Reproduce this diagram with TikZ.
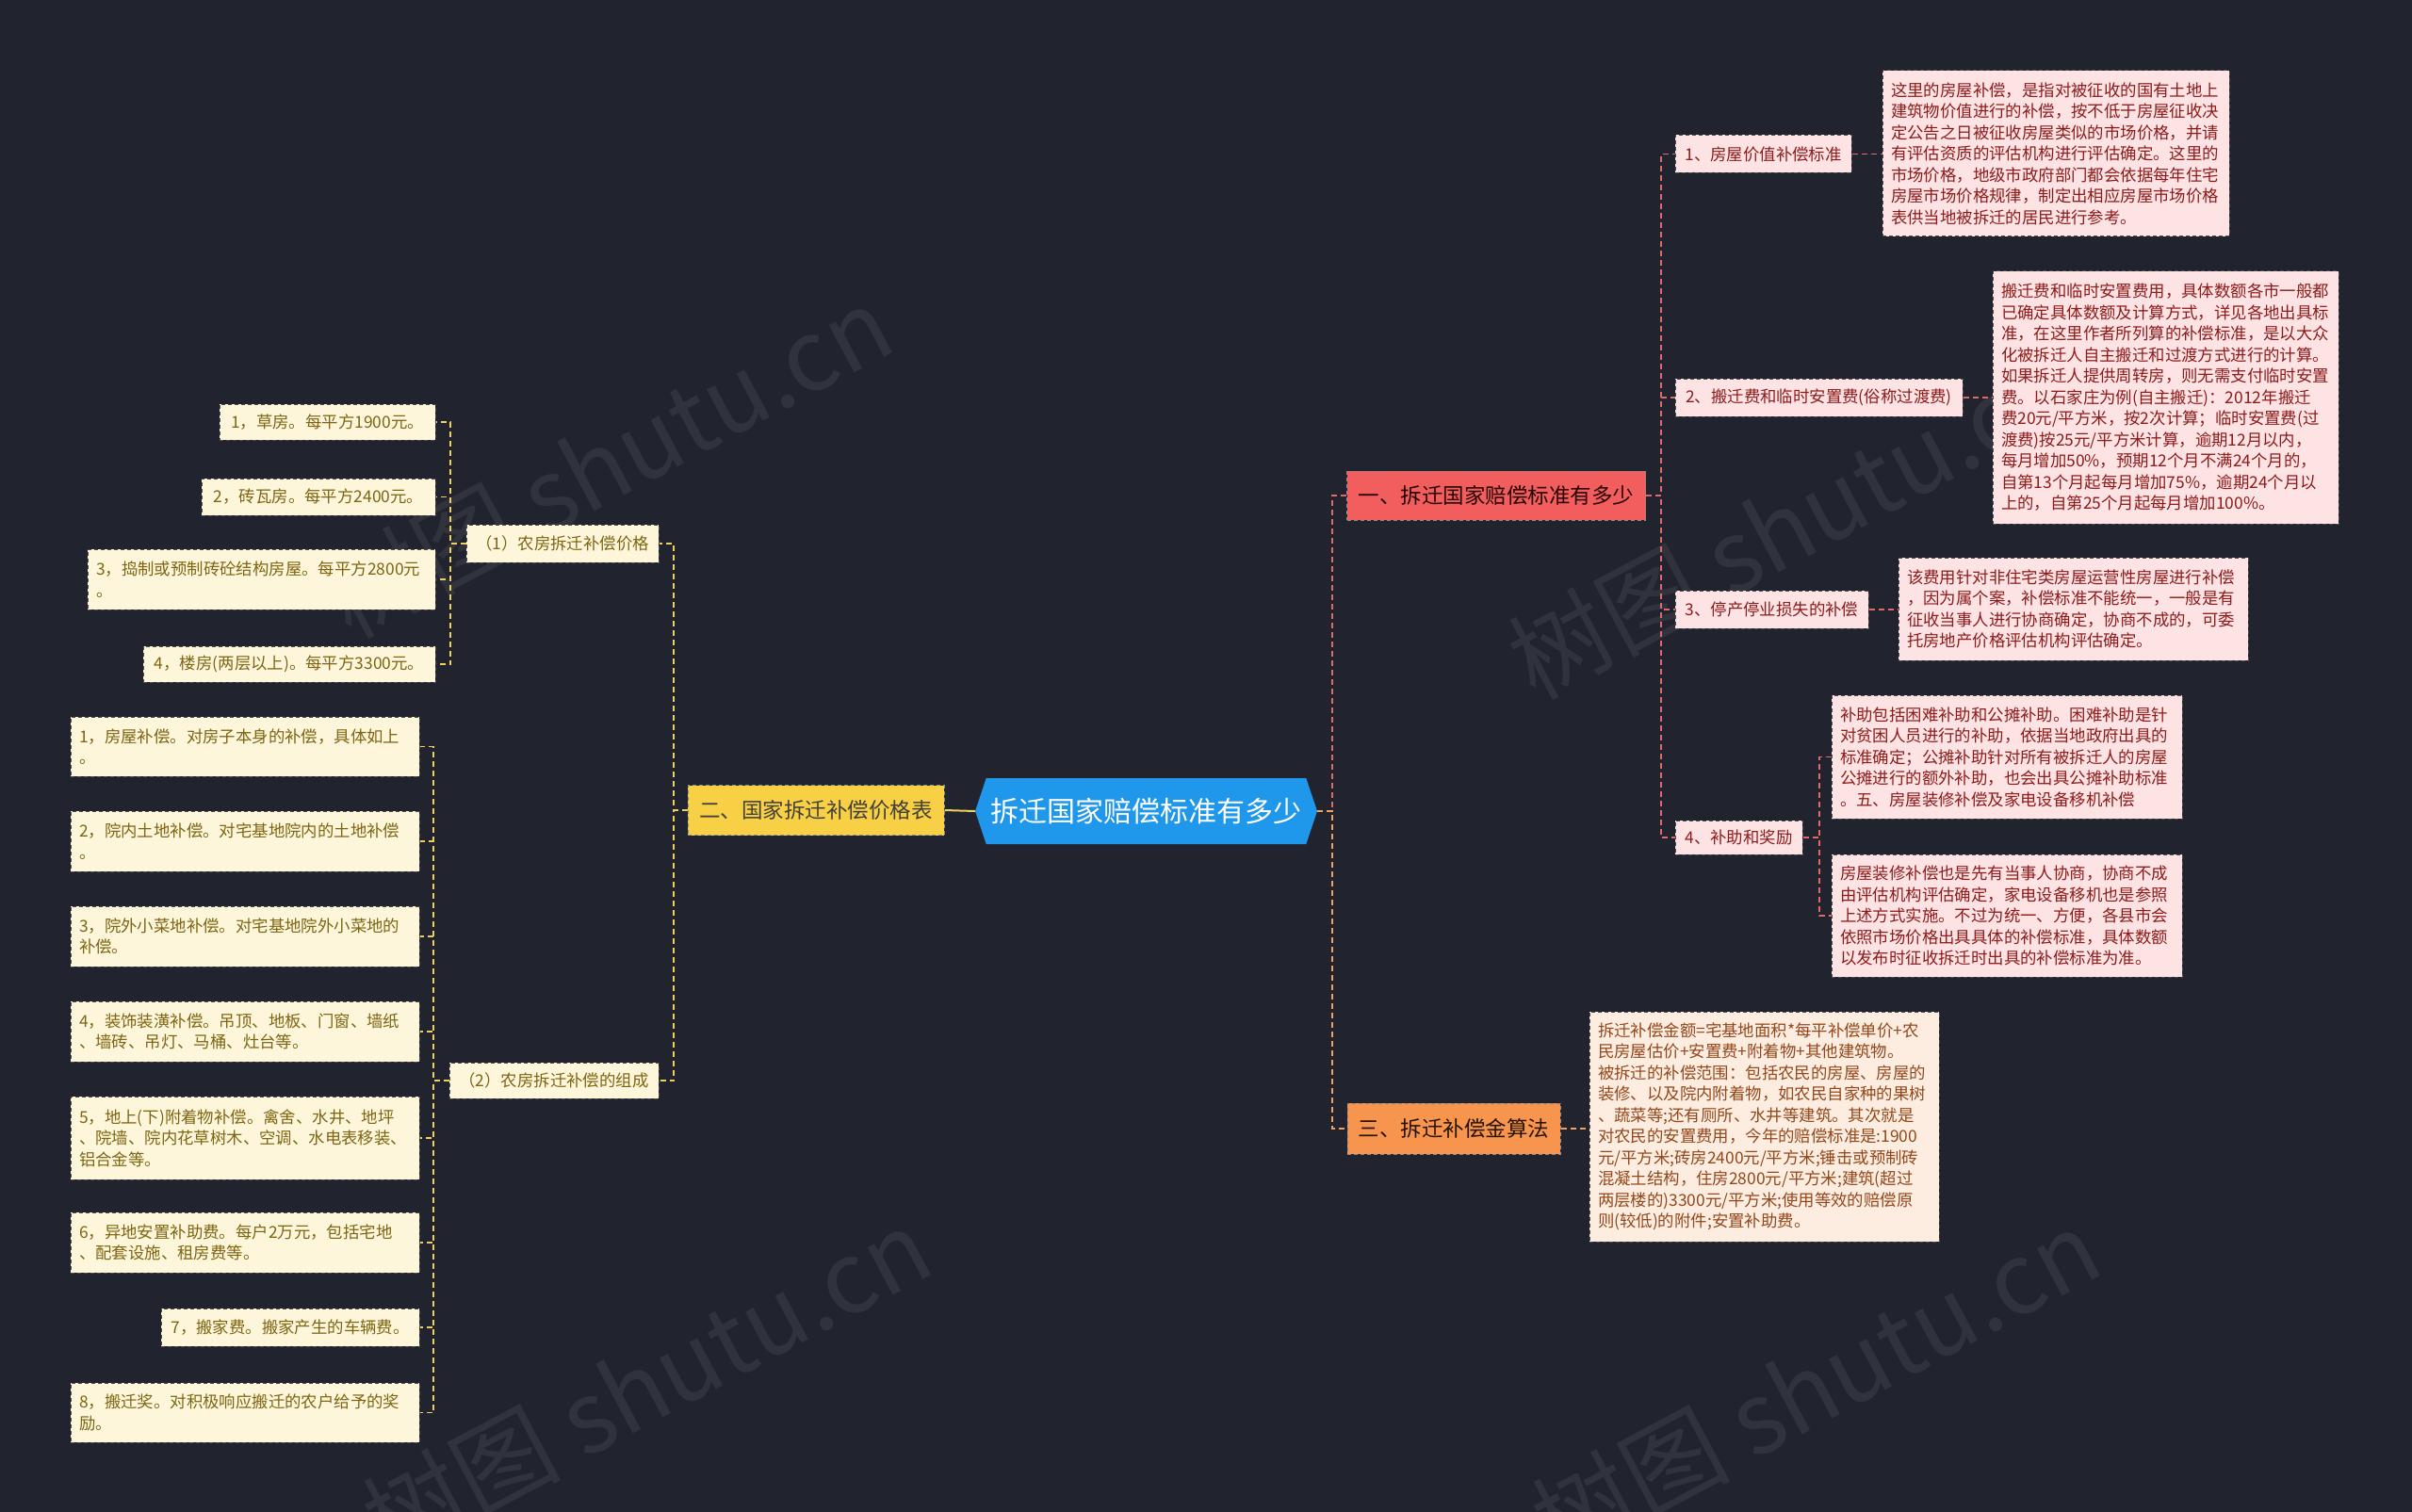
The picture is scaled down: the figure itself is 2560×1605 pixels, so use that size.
\documentclass[tikz,border=0pt]{standalone}
\usepackage{fontspec}
\setmainfont{Noto Sans CJK SC}
\usetikzlibrary{shapes.symbols}

\definecolor{bgdark}{HTML}{21232E}
\definecolor{rootblue}{HTML}{1F97EA}
\definecolor{redfill}{HTML}{F25E5E}
\definecolor{yellowfill}{HTML}{F7D046}
\definecolor{orangefill}{HTML}{F7954F}
\definecolor{pinkfill}{HTML}{FDE3E3}
\definecolor{pinktext}{HTML}{8E1B1B}
\definecolor{creamfill}{HTML}{FDF6DA}
\definecolor{creamtext}{HTML}{7D6512}
\definecolor{peachfill}{HTML}{FDEDE1}
\definecolor{peachtext}{HTML}{93471A}
\definecolor{linkred}{HTML}{E06868}
\definecolor{linkyellow}{HTML}{F0CF5A}
\definecolor{linkorange}{HTML}{F0A060}

\begin{document}
\begin{tikzpicture}[x=1pt, y=-1pt,
  box/.style={draw=black!70, dashed, dash pattern=on 4pt off 3pt, line width=1pt,
    inner xsep=9pt, inner ysep=0pt, font=\fontsize{17.4}{22.5}\selectfont},
  pinkbox/.style={box, fill=pinkfill, text=pinktext},
  creambox/.style={box, fill=creamfill, text=creamtext},
  peachbox/.style={box, fill=peachfill, text=peachtext},
  secbox/.style={draw=black!45, dashed, dash pattern=on 4pt off 3pt, line width=1pt,
    inner sep=0pt, font=\fontsize{22.5}{27}\selectfont},
  conred/.style={draw=linkred, line width=1.5pt, dash pattern=on 6pt off 4pt},
  conyellow/.style={draw=linkyellow, line width=1.5pt, dash pattern=on 6pt off 4pt},
  conorange/.style={draw=linkorange, line width=1.5pt, dash pattern=on 6pt off 4pt},
  wmark/.style={text=white, opacity=0.07, rotate=28, font=\fontsize{105}{110}\selectfont}]

  \fill[bgdark] (0,0) rectangle (2560,1605);
  \useasboundingbox (0,0) rectangle (2560,1605);

  % watermarks
  \node[wmark] (wm1) at (645,490) {树图 shutu.cn};
  \node[wmark] (wm2) at (1902,555) {树图 shutu.cn};
  \node[wmark] (wm3) at (686,1469) {树图 shutu.cn};
  \node[wmark] (wm4) at (1927,1470) {树图 shutu.cn};

  % centre
  \node[shape=signal, signal to=east and west, signal pointer angle=143, fill=rootblue,
    text=white, inner sep=0pt, minimum width=363pt, minimum height=70pt,
    font=\fontsize{30}{36}\selectfont] (root) at (1216.5,861) {拆迁国家赔偿标准有多少};

  % first level
  \node[secbox, fill=redfill, text=black!85!red, minimum width=317pt, minimum height=52pt]
    (sec1) at (1588,526) {一、拆迁国家赔偿标准有多少};
  \node[secbox, fill=yellowfill, text=black!85!yellow, minimum width=272pt, minimum height=53pt]
    (sec2) at (866,860) {二、国家拆迁补偿价格表};
  \node[secbox, fill=orangefill, text=black!85!orange, minimum width=226pt, minimum height=54pt]
    (sec3) at (1543,1198) {三、拆迁补偿金算法};

  % right side
  \node[pinkbox, minimum width=187pt, minimum height=40pt] (r1) at (1871.5,163.5) {1、房屋价值补偿标准};
  \node[pinkbox, minimum width=305pt, minimum height=40pt] (r2) at (1930.5,422) {2、搬迁费和临时安置费(俗称过渡费)};
  \node[pinkbox, minimum width=205pt, minimum height=40pt] (r3) at (1880.5,647) {3、停产停业损失的补偿};
  \node[pinkbox, minimum width=135pt, minimum height=36pt] (r4) at (1845.5,889) {4、补助和奖励};

  \node[pinkbox, align=left, text width=350pt, minimum height=176pt] (d1) at (2182,163) {%
    这里的房屋补偿，是指对被征收的国有土地上\\
    建筑物价值进行的补偿，按不低于房屋征收决\\
    定公告之日被征收房屋类似的市场价格，并请\\
    有评估资质的评估机构进行评估确定。这里的\\
    市场价格，地级市政府部门都会依据每年住宅\\
    房屋市场价格规律，制定出相应房屋市场价格\\
    表供当地被拆迁的居民进行参考。};
  \node[pinkbox, align=left, text width=349pt, minimum height=268pt] (d2) at (2298.5,422) {%
    搬迁费和临时安置费用，具体数额各市一般都\\
    已确定具体数额及计算方式，详见各地出具标\\
    准，在这里作者所列算的补偿标准，是以大众\\
    化被拆迁人自主搬迁和过渡方式进行的计算。\\
    如果拆迁人提供周转房，则无需支付临时安置\\
    费。以石家庄为例(自主搬迁)：2012年搬迁\\
    费20元/平方米，按2次计算；临时安置费(过\\
    渡费)按25元/平方米计算，逾期12月以内，\\
    每月增加50\%，预期12个月不满24个月的，\\
    自第13个月起每月增加75\%，逾期24个月以\\
    上的，自第25个月起每月增加100\%。};
  \node[pinkbox, align=left, text width=353pt, minimum height=109pt] (d3) at (2200.5,646.5) {%
    该费用针对非住宅类房屋运营性房屋进行补偿\\
    ，因为属个案，补偿标准不能统一，一般是有\\
    征收当事人进行协商确定，协商不成的，可委\\
    托房地产价格评估机构评估确定。};
  \node[pinkbox, align=left, text width=354pt, minimum height=131pt] (d4a) at (2130,803.5) {%
    补助包括困难补助和公摊补助。困难补助是针\\
    对贫困人员进行的补助，依据当地政府出具的\\
    标准确定；公摊补助针对所有被拆迁人的房屋\\
    公摊进行的额外补助，也会出具公摊补助标准\\
    。五、房屋装修补偿及家电设备移机补偿};
  \node[pinkbox, align=left, text width=354pt, minimum height=130pt] (d4b) at (2130,972) {%
    房屋装修补偿也是先有当事人协商，协商不成\\
    由评估机构评估确定，家电设备移机也是参照\\
    上述方式实施。不过为统一、方便，各县市会\\
    依照市场价格出具具体的补偿标准，具体数额\\
    以发布时征收拆迁时出具的补偿标准为准。};
  \node[peachbox, align=left, text width=353pt, minimum height=244pt] (d5) at (1872.5,1196) {%
    拆迁补偿金额=宅基地面积*每平补偿单价+农\\
    民房屋估价+安置费+附着物+其他建筑物。\\
    被拆迁的补偿范围：包括农民的房屋、房屋的\\
    装修、以及院内附着物，如农民自家种的果树\\
    、蔬菜等;还有厕所、水井等建筑。其次就是\\
    对农民的安置费用，今年的赔偿标准是:1900\\
    元/平方米;砖房2400元/平方米;锤击或预制砖\\
    混凝土结构，住房2800元/平方米;建筑(超过\\
    两层楼的)3300元/平方米;使用等效的赔偿原\\
    则(较低)的附件;安置补助费。};

  % left side
  \node[creambox, minimum width=204pt, minimum height=40pt] (p1) at (597,577) {（1）农房拆迁补偿价格};
  \node[creambox, minimum width=222pt, minimum height=38pt] (p2) at (588,1147) {（2）农房拆迁补偿的组成};

  \node[creambox, minimum width=229pt, minimum height=38pt] (l1) at (347.5,448) {1，草房。每平方1900元。};
  \node[creambox, minimum width=248pt, minimum height=39pt] (l2) at (338,527.5) {2，砖瓦房。每平方2400元。};
  \node[creambox, align=left, text width=351pt, minimum height=64pt] (l3) at (277.5,615) {%
    3，捣制或预制砖砼结构房屋。每平方2800元\\。};
  \node[creambox, minimum width=310pt, minimum height=38pt] (l4) at (307,705) {4，楼房(两层以上)。每平方3300元。};

  \node[creambox, align=left, text width=352pt, minimum height=63pt] (b1) at (260,792.5) {%
    1，房屋补偿。对房子本身的补偿，具体如上\\。};
  \node[creambox, align=left, text width=352pt, minimum height=64pt] (b2) at (260,893) {%
    2，院内土地补偿。对宅基地院内的土地补偿\\。};
  \node[creambox, align=left, text width=352pt, minimum height=64pt] (b3) at (260,994) {%
    3，院外小菜地补偿。对宅基地院外小菜地的\\补偿。};
  \node[creambox, align=left, text width=352pt, minimum height=64pt] (b4) at (260,1095) {%
    4，装饰装潢补偿。吊顶、地板、门窗、墙纸\\、墙砖、吊灯、马桶、灶台等。};
  \node[creambox, align=left, text width=352pt, minimum height=88pt] (b5) at (260,1208) {%
    5，地上(下)附着物补偿。禽舍、水井、地坪\\、院墙、院内花草树木、空调、水电表移装、\\铝合金等。};
  \node[creambox, align=left, text width=352pt, minimum height=64pt] (b6) at (260,1319) {%
    6，异地安置补助费。每户2万元，包括宅地\\、配套设施、租房费等。};
  \node[creambox, minimum width=274pt, minimum height=40pt] (b7) at (308,1409) {7，搬家费。搬家产生的车辆费。};
  \node[creambox, align=left, text width=352pt, minimum height=63pt] (b8) at (260,1499.5) {%
    8，搬迁奖。对积极响应搬迁的农户给予的奖\\励。};

  % connectors
  \coordinate (sp0) at (1414,861);
  \coordinate (sp1) at (1763,526);
  \coordinate (sp5) at (1931,889);
  \coordinate (sp2) at (715,860);
  \coordinate (sp3) at (478,577);
  \coordinate (sp4) at (460,1147);

  \draw[linkyellow, line width=2pt] (root.west) -- (sec2.east);
  \draw[conred] (root.east) -- (sp0) |- (sec1.west);
  \draw[conorange] (root.east) -- (sp0) |- (sec3.west);
  \draw[conorange] (sec3.east) -- (sec3.east -| d5.west);

  \foreach \n in {1,...,4}
    \draw[conred] (sec1.east) -- (sp1) |- (r\n.west);
  \draw[conred] (r1.east) -- (r1.east -| d1.west);
  \draw[conred] (r2.east) -- (r2.east -| d2.west);
  \draw[conred] (r3.east) -- (r3.east -| d3.west);
  \draw[conred] (r4.east) -- (sp5) |- (d4a.west);
  \draw[conred] (r4.east) -- (sp5) |- (d4b.west);

  \draw[conyellow] (sec2.west) -- (sp2) |- (p1.east);
  \draw[conyellow] (sec2.west) -- (sp2) |- (p2.east);
  \foreach \n in {1,...,4}
    \draw[conyellow] (p1.west) -- (sp3) |- (l\n.east);
  \foreach \n in {1,...,8}
    \draw[conyellow] (p2.west) -- (sp4) |- (b\n.east);
\end{tikzpicture}
\end{document}
